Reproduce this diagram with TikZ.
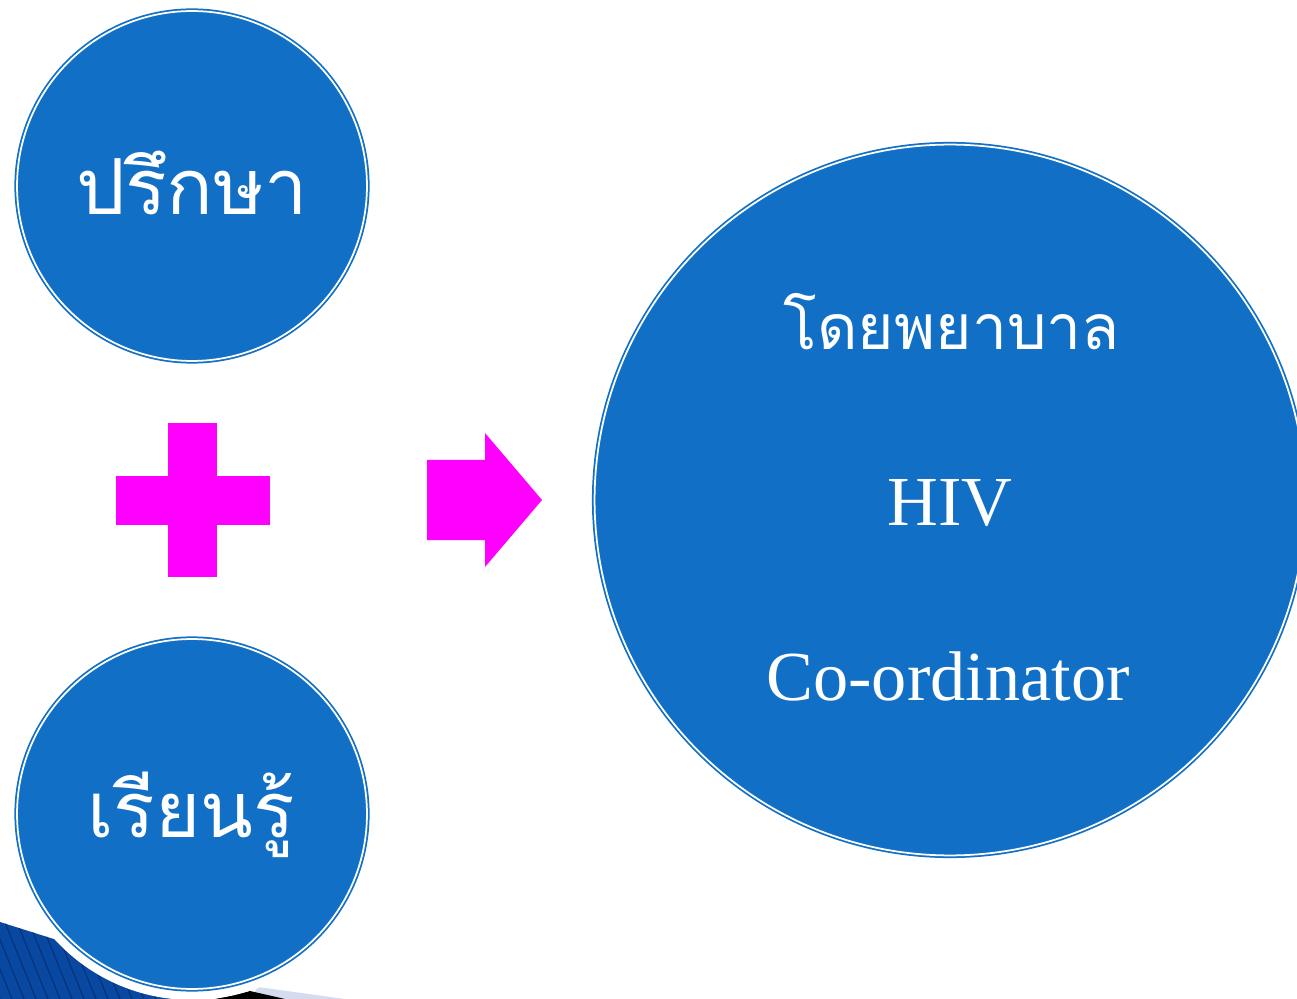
\documentclass[tikz,border=0pt]{standalone}
\usepackage{fontspec}
\setmainfont{Liberation Serif}
\newfontfamily\thaifont[Script=Thai]{Loma}
\definecolor{hivblue}{RGB}{17,112,198}
\definecolor{plusmag}{RGB}{255,0,255}
\definecolor{bandblue}{RGB}{8,72,160}
\definecolor{bandline}{RGB}{4,48,118}
\definecolor{lavender}{RGB}{214,220,240}
\pgfdeclarelayer{bg}
\pgfsetlayers{bg,main}
\tikzset{
    bubble/.style={circle, fill=hivblue, draw=hivblue, double=white, double distance=1pt, line width=1pt, inner sep=0mm},
    thaitext/.style={text=white, inner sep=0mm, font=\thaifont\fontsize{44}{50}\selectfont},
    engtext/.style={text=white, inner sep=0mm, font=\fontsize{40}{46}\selectfont}
}

\begin{document}
\begin{tikzpicture}[x=0.02cm, y=-0.02cm]
    \useasboundingbox (0, 0) rectangle (1297, 999);
    \clip (0, 0) rectangle (1297, 999);

    \begin{pgfonlayer}{bg}
        % striped band in the corner
        \begin{scope}
            \clip (0, 922) -- (60, 941) -- (200, 999) -- (0, 999) -- cycle;
            \fill[bandblue] (0, 900) rectangle (200, 999);
            \foreach \s in {-100, -88, ..., 200}
                \draw[bandline, line width=0.6pt] (\s, 900) -- (\s+40, 999);
        \end{scope}
        \fill[lavender] (250, 999) -- (258, 987) -- (345, 999) -- cycle;
        \fill[black] (215, 999) -- (250, 991) -- (285, 999) -- cycle;
        \fill[white] (192, 814) circle (3.72cm);
    \end{pgfonlayer}

    \node[bubble, minimum size=7.0cm] (consult) at (192, 186) {};
    \node[bubble, minimum size=7.0cm] (learn) at (192, 814) {};
    \node[bubble, minimum size=14.22cm] (nurse) at (950, 500) {};

    \node[thaitext, anchor=base] (consulttxt) at (192, 215) {ปรึกษา};
    \node[thaitext, anchor=base] (learntxt) at (191, 837) {เรียนรู้};
    \node[thaitext, anchor=base, font=\thaifont\fontsize{35.5}{40}\selectfont] (nursetxt) at (952, 350) {โดยพยาบาล};
    \node[engtext, anchor=base] (hivtxt) at (950, 525) {HIV};
    \node[engtext, anchor=base] (coordtxt) at (948, 700) {Co-ordinator};

    % plus and arrow
    \fill[plusmag] (168, 423) rectangle (217, 577);
    \fill[plusmag] (116, 476) rectangle (270, 525);
    \fill[plusmag] (427, 460) -- (485, 460) -- (485, 433) -- (542, 500)
        -- (485, 567) -- (485, 540) -- (427, 540) -- cycle;
\end{tikzpicture}
\end{document}
